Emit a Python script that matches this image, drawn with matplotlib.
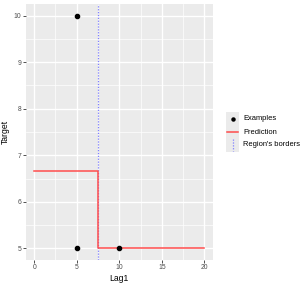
import matplotlib
matplotlib.use("Agg")
import matplotlib.pyplot as plt
from matplotlib.ticker import MultipleLocator

plt.rcParams['font.family'] = ['Liberation Sans', 'DejaVu Sans']

# Data
ex_x = [5, 5, 10]
ex_y = [10, 5, 5]
pred_x = [0, 7.5, 7.5, 20]
pred_y = [6.667, 6.667, 5, 5]
border_x = 7.5
legend_labels = ["Examples", "Prediction", "Region's borders"]
xticks = [0, 5, 10, 15, 20]
yticks = [5, 6, 7, 8, 9, 10]

W, H = 305, 284
fig = plt.figure(figsize=(W / 100, H / 100), dpi=100)
fig.patch.set_facecolor("white")

ax = fig.add_axes([25.7 / W, 1 - 260 / H, (213 - 25.7) / W, (260 - 4) / H])
ax.set_facecolor("#EBEBEB")
ax.set_xlim(-1, 21)
ax.set_ylim(4.75, 10.25)
ax.set_xticks(xticks)
ax.set_yticks(yticks)
ax.xaxis.set_minor_locator(MultipleLocator(2.5))
ax.yaxis.set_minor_locator(MultipleLocator(0.5))
ax.grid(which="major", color="white", linewidth=1.0)
ax.grid(which="minor", color="white", linewidth=0.5)
ax.set_axisbelow(True)
for s in ax.spines.values():
    s.set_visible(False)
ax.tick_params(which="major", length=2, width=0.6, color="#333333",
               labelsize=4.9, labelcolor="#4D4D4D", pad=1.2)
ax.tick_params(which="minor", length=0)

ax.axvline(border_x, color="#8080ff", linestyle=(0, (1, 1.3)), linewidth=0.9, zorder=2)
ax.plot(pred_x, pred_y, color="#ff4d4d", linewidth=1.1, zorder=3)
ax.plot(ex_x, ex_y, "o", color="black", markersize=3, zorder=4)

ax.set_xlabel("Lag1", fontsize=6.2, labelpad=1.5)
ax.set_ylabel("Target", fontsize=6.2, labelpad=2.5)

# Legend (manual)
lx0, lx1, ly0, ly1 = 226, 239, 112, 152
lax = fig.add_axes([lx0 / W, 1 - ly1 / H, (lx1 - lx0) / W, (ly1 - ly0) / H])
lax.set_facecolor("#EBEBEB")
lax.set_xlim(0, 1)
lax.set_ylim(ly1, ly0)
lax.set_xticks([])
lax.set_yticks([])
for s in lax.spines.values():
    s.set_visible(False)
rows = [119, 132, 145]
lax.plot([0.5], [rows[0]], "o", color="black", markersize=2.2)
lax.plot([0.05, 0.95], [rows[1], rows[1]], color="#ff4d4d", linewidth=1.1)
lax.plot([0.5, 0.5], [rows[2] - 5.5, rows[2] + 5.5], color="#8080ff",
         linestyle=(0, (1, 1.3)), linewidth=0.9)
for lab, r in zip(legend_labels, rows):
    fig.text(243 / W, 1 - r / H, lab, fontsize=5.4, va="center", ha="left", color="black")

fig.savefig("out.png", dpi=100)
